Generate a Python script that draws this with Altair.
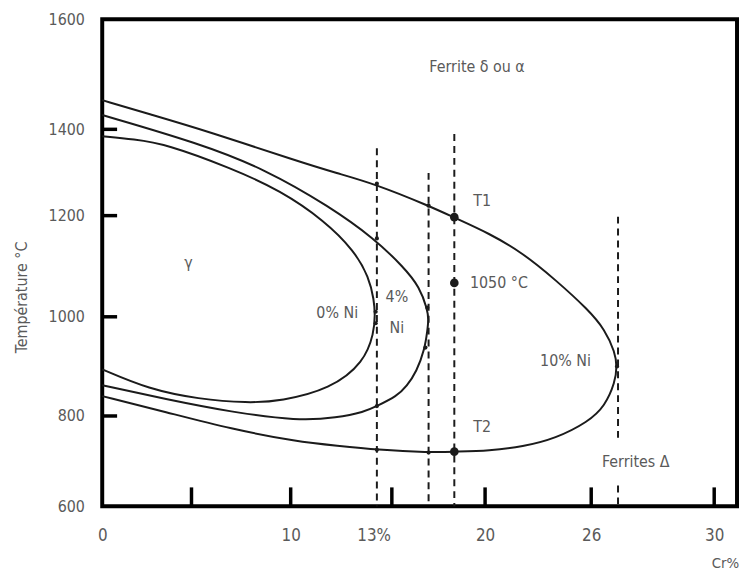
import altair as alt
import pandas as pd

FONT = "Liberation Sans Narrow, DejaVu Sans Condensed, Arial Narrow, sans-serif"
INK = "#1b1b1b"
GREY = "#5a5a5a"

# ---- gamma loops (Cr %, temperature °C) ----
cr_0ni = [0, 1.78, 3.56, 7.0, 9.5, 11.67, 13.14, 13.87, 14.12, 14.17, 14.12, 13.63, 11.96, 9.5, 7.85, 5.35, 2.6, 0]
t_0ni = [1384, 1377, 1366, 1310, 1258, 1190, 1131, 1078, 1033, 1004, 968, 908, 854, 830, 826, 834, 854, 894]

cr_4ni = [0, 5.35, 8.7, 11.96, 14.12, 15.64, 16.49, 16.91, 16.97, 16.91, 16.76, 16.33, 15.8, 15.27, 14.26,
          13.63, 12.3, 10.34, 7.0, 3.56, 0]
t_4ni = [1426, 1368, 1308, 1220, 1155, 1098, 1059, 1014, 994, 974, 934, 890, 860, 840, 820,
         808, 796, 789, 808, 834, 862]

cr_10ni = [0, 2.6, 5.85, 10.34, 12.3, 14.12, 16.97, 18.35, 20.19, 21.78, 23.32, 24.86, 25.56, 25.97, 26.05,
           25.97, 25.56, 24.86, 23.32, 21.78, 20.19, 18.45, 16.97, 14.26, 12.3, 10.34, 7.0, 3.56, 0]
t_10ni = [1453, 1428, 1395, 1326, 1298, 1274, 1223, 1196, 1165, 1126, 1073, 1014, 974, 928, 900,
          868, 820, 787, 750, 732, 723, 721, 719, 725, 734, 743, 771, 808, 840]

# ---- dashed verticals ----
dash_cr = [14.26, 16.97, 18.35, 26.09, 26.09]
dash_top = [1356, 1299, 1389, 1198, 646]
dash_bottom = [600, 600, 600, 743, 600]

# ---- marked points ----
big_cr = [18.35, 18.35, 18.35]
big_t = [1197, 1067, 721]
small_cr = [14.26, 16.97, 14.26, 14.2, 14.2, 16.9, 16.8, 14.26, 14.26, 16.97, 26.05]
small_t = [1274, 1223, 1155, 1010, 987, 1018, 938, 820, 725, 719, 900]

# ---- annotations ----
note_text = ["Ferrite δ ou α", "γ", "0% Ni", "4%", "Ni", "T1", "1050 °C", "T2", "10% Ni", "Ferrites Δ"]
note_cr = [19.57, 4.83, 12.3, 15.27, 15.27, 19.84, 20.65, 19.84, 23.79, 26.81]
note_t = [1514, 1106, 1008, 1039, 978, 1234, 1067, 776, 910, 697]

# ---- axes ----
x_tick_vals = [5, 10, 15, 20, 25, 30]
y_tick_vals = [800, 1000, 1200, 1400]
x_label_pos = [0, 10, 14.1, 20, 25, 30]
x_label_text = ["0", "10", "13%", "20", "26", "30"]
y_label_vals = [600, 800, 1000, 1200, 1400, 1600]

X_DOMAIN = [0, 5, 10, 15, 20, 25, 30, 31]
X_RANGE = [0, 90, 190, 292, 386, 493, 617, 640]
Y_DOMAIN = [600, 800, 1000, 1200, 1400, 1600]
Y_RANGE = [491, 400, 300, 198, 111, 0]

rows = []
for name, xs_, ts_ in [("0% Ni", cr_0ni, t_0ni), ("4% Ni", cr_4ni, t_4ni), ("10% Ni", cr_10ni, t_10ni)]:
    for i, (a, b) in enumerate(zip(xs_, ts_)):
        rows.append({"loop": name, "i": i, "cr": a, "t": b})
loops = pd.DataFrame(rows)
dashes = pd.DataFrame({"cr": dash_cr, "t": dash_top, "t2": dash_bottom})
big = pd.DataFrame({"cr": big_cr, "t": big_t})
small = pd.DataFrame({"cr": small_cr, "t": small_t})
notes = pd.DataFrame({"cr": note_cr, "t": note_t, "text": note_text})
xt = pd.DataFrame({"v": x_tick_vals})
yt = pd.DataFrame({"v": y_tick_vals})

xsc = alt.Scale(domain=X_DOMAIN, range=X_RANGE, nice=False, zero=False)
ysc = alt.Scale(domain=Y_DOMAIN, range=Y_RANGE, nice=False, zero=False)

label_expr = " : ".join(f"datum.value == {p} ? '{t}'" for p, t in zip(x_label_pos, x_label_text)) + " : ''"

x_axis = alt.Axis(values=x_label_pos, labelExpr=label_expr, ticks=False, domain=False, grid=False,
                  labelPadding=22, labelFlush=False, labelOverlap=False, labelFontSize=17,
                  labelColor=GREY, labelFont=FONT,
                  title="Cr%", titleX=614, titleY=57, titleAlign="left", titleBaseline="middle",
                  titleFontWeight="normal", titleFontSize=15, titleColor=GREY, titleFont=FONT)
y_axis = alt.Axis(values=y_label_vals, format="d", ticks=False, domain=False, grid=False,
                  labelPadding=18, labelFlush=False, labelOverlap=False, labelFontSize=16,
                  labelColor=GREY, labelFont=FONT, labelBaseline="middle",
                  title="Température °C", titleX=-81, titleY=280, titleAngle=270,
                  titleAlign="center", titleBaseline="middle",
                  titleFontWeight="normal", titleFontSize=16, titleColor=GREY, titleFont=FONT)

curves = alt.Chart(loops).mark_line(interpolate="basis", color=INK, strokeWidth=2).encode(
    x=alt.X("cr:Q", scale=xsc, axis=x_axis),
    y=alt.Y("t:Q", scale=ysc, axis=y_axis),
    detail="loop:N",
    order="i:Q",
)

dash_layer = alt.Chart(dashes).mark_rule(strokeDash=[7, 5], strokeWidth=2, color=INK).encode(
    x=alt.X("cr:Q", scale=xsc), y=alt.Y("t:Q", scale=ysc), y2="t2:Q")

big_layer = alt.Chart(big).mark_circle(size=75, color=INK, opacity=1).encode(
    x=alt.X("cr:Q", scale=xsc), y=alt.Y("t:Q", scale=ysc))
small_layer = alt.Chart(small).mark_circle(size=18, color=INK, opacity=1).encode(
    x=alt.X("cr:Q", scale=xsc), y=alt.Y("t:Q", scale=ysc))

text_layer = alt.Chart(notes).mark_text(font=FONT, fontSize=16, color=GREY, align="center",
                                        baseline="middle").encode(
    x=alt.X("cr:Q", scale=xsc), y=alt.Y("t:Q", scale=ysc), text="text:N")

xtick_layer = alt.Chart(xt).mark_rule(color="black", strokeWidth=3.5).encode(
    x=alt.X("v:Q", scale=xsc), y=alt.value(491), y2=alt.value(472))
ytick_layer = alt.Chart(yt).mark_rule(color="black", strokeWidth=3.5).encode(
    y=alt.Y("v:Q", scale=ysc), x=alt.value(0), x2=alt.value(15))

chart = alt.layer(curves, dash_layer, big_layer, small_layer, text_layer, xtick_layer, ytick_layer).properties(
    width=640, height=491, autosize="none",
    padding={"left": 95, "top": 9, "right": 2, "bottom": 68},
).configure(background="white", view=alt.ViewConfig(stroke="black", strokeWidth=4))

chart.save("out.html", embed_options={"renderer": "svg", "actions": False})
